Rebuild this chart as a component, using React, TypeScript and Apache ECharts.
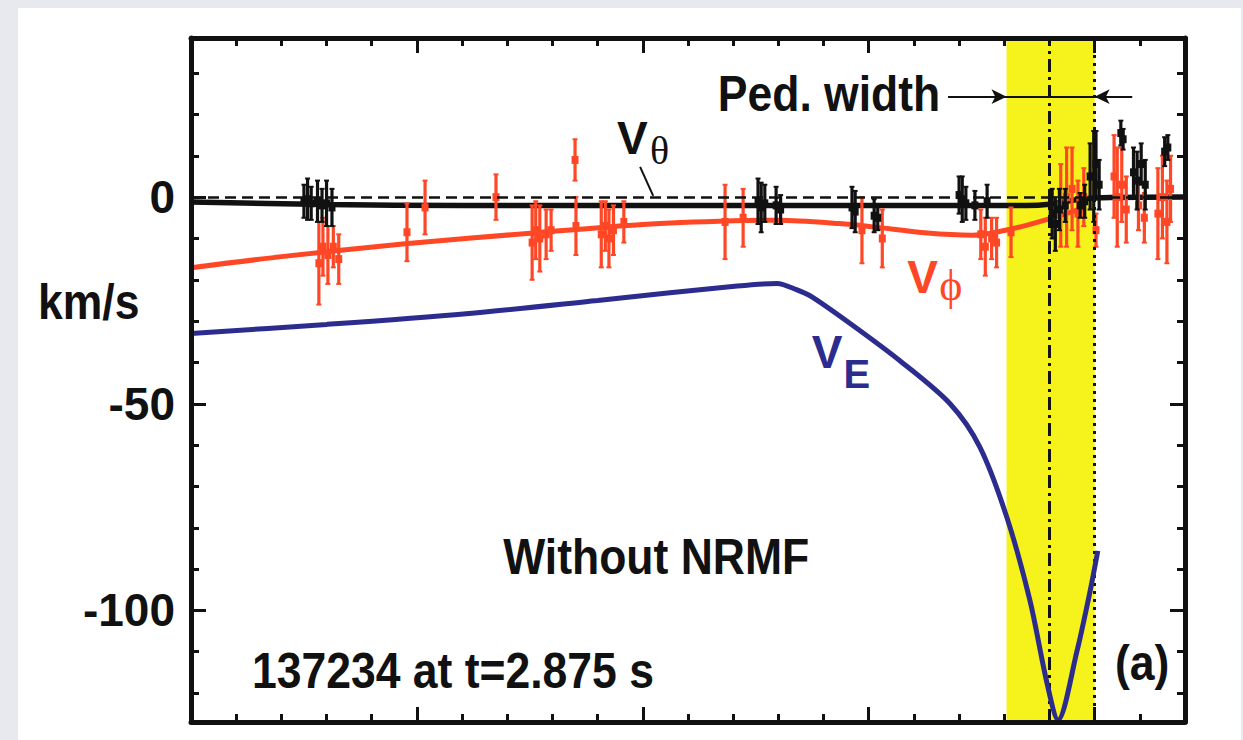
import React, { useEffect, useRef } from "react";
import * as echarts from "echarts";

// ---- axis ranges and ticks ----
const X_MIN = 0.8;
const X_MAX = 1.02;
const Y_MIN = -127;
const Y_MAX = 38.5;
const xMajorTicks = [0.8, 0.85, 0.9, 0.95, 1.0];
const xMinorTicks = [0.81, 0.82, 0.83, 0.84, 0.86, 0.87, 0.88, 0.89, 0.91, 0.92, 0.93, 0.94, 0.96, 0.97, 0.98, 0.99, 1.01];
const yMajorTicks = [-100, -50, 0];
const yMinorTicks = [-120, -110, -90, -80, -70, -60, -40, -30, -20, -10, 10, 20, 30];

// ---- fitted profiles ----
const vThetaFit: [number, number][] = [
  [0.8, -1.2], [0.83, -1.8], [0.86, -2.0], [0.9, -2.0], [0.95, -2.0], [0.985, -2.0],
  [0.99, -1.7], [0.995, -0.8], [1.0, -0.2], [1.02, 0],
];
const vPhiFit: [number, number][] = [
  [0.8, -17.1], [0.82, -14.4], [0.8474, -11.3], [0.8766, -8.6], [0.9, -6.6], [0.92, -5.7],
  [0.93, -5.6], [0.9436, -6.4], [0.951, -7.2], [0.963, -8.7], [0.973, -9.2], [0.982, -7.6],
  [0.991, -4.9], [0.998, -2.5],
];
const vEProfile: [number, number][] = [
  [0.8, -33.0], [0.83, -30.8], [0.8609, -28.2], [0.89, -25.0], [0.9209, -21.5], [0.9297, -20.9],
  [0.934, -22.4], [0.9375, -24.2], [0.9459, -30.6], [0.9569, -39.6], [0.968, -50.0],
  [0.9746, -60.5], [0.9806, -77.6], [0.9857, -97.7], [0.9895, -117.8], [0.9919, -126.5],
  [0.9961, -109.8], [0.999, -95.3], [1.0007, -85.6],
];

// ---- measured points [x, value, error] ----
const vThetaData: [number, number, number][] = [
  [0.825, -1.0, 4.0], [0.8258, -0.5, 5.0], [0.8266, -1.5, 4.0], [0.828, -1.0, 5.0], [0.829, -2.0, 4.0], [0.83, -1.5, 5.5], [0.8312, -2.5, 4.5],
  [0.9255, -1.0, 5.5], [0.9262, -2.5, 6.0], [0.927, -1.5, 4.5], [0.9295, -2.0, 4.5], [0.9305, -3.0, 3.5],
  [0.9463, -2.5, 5.0], [0.947, -3.5, 5.0], [0.9512, -4.5, 4.0], [0.952, -5.0, 3.0],
  [0.97, 0.5, 4.5], [0.9707, -0.5, 5.5], [0.9715, -1.5, 4.0], [0.9735, -2.0, 3.5], [0.9762, -1.0, 4.0],
  [0.9906, -4.0, 6.0], [0.9913, -6.5, 6.5], [0.9922, -3.0, 5.0], [0.9935, -2.0, 4.0],
  [0.9968, -2.0, 3.0], [0.9978, -1.0, 4.0], [0.999, 5.0, 8.0], [0.9998, 5.0, 11.0], [1.0003, 8.0, 8.0], [1.001, 3.0, 6.0],
  [1.0058, 15.5, 3.0], [1.0063, 14.0, 2.5],
  [1.0086, 6.0, 6.0], [1.0094, 4.0, 7.0], [1.0103, 8.0, 5.0], [1.0112, 3.0, 6.0],
  [1.0155, 11.0, 3.5], [1.0162, 12.0, 3.0],
];
const vPhiData: [number, number, number][] = [
  [0.8283, -16, 10], [0.8292, -12, 7], [0.8303, -14, 7], [0.8315, -12, 5], [0.8327, -15, 6],
  [0.8478, -8.5, 7], [0.8518, -2.5, 6.5], [0.8675, 0, 5.5],
  [0.8755, -11, 9], [0.8763, -8, 7], [0.8772, -10, 8], [0.8786, -9, 6], [0.8797, -8, 5],
  [0.885, 9, 5], [0.8852, -7, 7],
  [0.8908, -9, 8], [0.8917, -7, 6], [0.8925, -10, 7], [0.8935, -8, 6], [0.8958, -6, 5],
  [0.9182, -6, 9], [0.9222, -5, 7],
  [0.9485, -8, 8], [0.953, -10, 7],
  [0.9748, -9, 6], [0.9758, -12, 7], [0.9772, -10, 5], [0.9783, -11, 6],
  [0.9815, -8.5, 6],
  [0.9925, -2, 10], [0.9938, 0, 12], [0.995, 2, 10], [0.9963, -4, 8], [0.9976, 0, 7],
  [1.0003, -8, 4],
  [1.0043, 5, 10], [1.005, 0, 12], [1.006, 3, 9], [1.007, -3, 8],
  [1.0097, -2, 6], [1.011, -5, 6],
  [1.014, -4, 11], [1.015, 0, 10], [1.016, -6, 10], [1.0168, 2, 8],
];

// ---- annotations (data coordinates) ----
const pedestalBand: [number, number] = [0.9805, 1.0];
const pedCenterX = 0.9911;
const pedEdgeX = 1.0;
const pedArrowY = 24.3;
const pedArrowOuter: [number, number] = [0.9676, 1.0083];
const thetaLeader: [number, number][] = [[0.8994, 7.3], [0.9023, 0.3]];

const COLORS = { black: "#111111", red: "#ff4726", navy: "#2c2c8e", yellow: "#f6f21c" };
const SANS = "'Liberation Sans', Arial, Helvetica, sans-serif";
const SERIF = "'Liberation Serif', 'DejaVu Serif', serif";

type Lbl = { text: string; x: number; y: number; size: number; weight: string; family: string; color: string; scaleX: number };
const plotLabels: Lbl[] = [
  { text: "Ped. width", x: 0.9166, y: 25.0, size: 50, weight: "bold", family: SANS, color: COLORS.black, scaleX: 0.89 },
  { text: "Without NRMF", x: 0.8691, y: -87.0, size: 50, weight: "bold", family: SANS, color: COLORS.black, scaleX: 0.89 },
  { text: "137234 at t=2.875 s", x: 0.8135, y: -114.5, size: 50, weight: "bold", family: SANS, color: COLORS.black, scaleX: 0.89 },
  { text: "(a)", x: 1.0045, y: -112.6, size: 50, weight: "bold", family: SANS, color: COLORS.black, scaleX: 0.89 },
  { text: "V", x: 0.8943, y: 14.3, size: 46, weight: "bold", family: SANS, color: COLORS.black, scaleX: 1 },
  { text: "θ", x: 0.9016, y: 11.4, size: 40, weight: "normal", family: SERIF, color: COLORS.black, scaleX: 1 },
  { text: "V", x: 0.9585, y: -19.3, size: 46, weight: "bold", family: SANS, color: COLORS.red, scaleX: 1 },
  { text: "ϕ", x: 0.9656, y: -21.4, size: 44, weight: "normal", family: SERIF, color: COLORS.red, scaleX: 1 },
  { text: "V", x: 0.9374, y: -37.5, size: 46, weight: "bold", family: SANS, color: COLORS.navy, scaleX: 1 },
  { text: "E", x: 0.9444, y: -42.8, size: 40, weight: "bold", family: SANS, color: COLORS.navy, scaleX: 1 },
];
const unitLabel = { text: "km/s", left: 38, middle: 301.5 };

function errBar(color: string) {
  return (_params: any, api: any) => {
    const x = api.value(0);
    const y = api.value(1);
    const e = api.value(2);
    const top = api.coord([x, y + e]);
    const bot = api.coord([x, y - e]);
    const mid = api.coord([x, y]);
    return {
      type: "group",
      children: [
        { type: "line", shape: { x1: top[0], y1: top[1], x2: bot[0], y2: bot[1] }, style: { stroke: color, lineWidth: 3.2 } },
        { type: "line", shape: { x1: top[0] - 2.5, y1: top[1], x2: top[0] + 2.5, y2: top[1] }, style: { stroke: color, lineWidth: 2 } },
        { type: "line", shape: { x1: bot[0] - 2.5, y1: bot[1], x2: bot[0] + 2.5, y2: bot[1] }, style: { stroke: color, lineWidth: 2 } },
        { type: "rect", shape: { x: mid[0] - 3.5, y: mid[1] - 4, width: 7, height: 8 }, style: { fill: color } },
      ],
    };
  };
}

export default function App() {
  const ref = useRef<HTMLDivElement>(null);
  useEffect(() => {
    if (!ref.current) return;
    const chart = echarts.init(ref.current, null, { renderer: "svg" });
    const tickLine = { color: COLORS.black, width: 3 };
    const frameLine = { color: COLORS.black, width: 5 };
    const mkX = (position: string, ticks: number[], len: number, line: boolean) => ({
      type: "value", position, min: X_MIN, max: X_MAX, z: 10,
      axisLine: { show: line, onZero: false, lineStyle: frameLine },
      axisTick: { show: true, inside: true, length: len, customValues: ticks, lineStyle: tickLine },
      axisLabel: { show: false }, splitLine: { show: false },
    });
    const mkY = (position: string, ticks: number[], len: number, line: boolean, labels: boolean) => ({
      type: "value", position, min: Y_MIN, max: Y_MAX, z: 10,
      axisLine: { show: line, onZero: false, lineStyle: frameLine },
      axisTick: { show: true, inside: true, length: len, customValues: ticks, lineStyle: tickLine },
      axisLabel: labels
        ? { show: true, customValues: yMajorTicks, margin: 16, fontSize: 46, fontWeight: "bold", fontFamily: SANS, color: COLORS.black }
        : { show: false },
      splitLine: { show: false },
    });

    const option: any = {
      animation: false,
      backgroundColor: "transparent",
      grid: { left: 191, right: 58, top: 38, bottom: 18, containLabel: false },
      xAxis: [
        mkX("bottom", xMajorTicks, 15, true),
        mkX("bottom", xMinorTicks, 8, false),
        mkX("top", xMajorTicks, 15, true),
        mkX("top", xMinorTicks, 8, false),
      ],
      yAxis: [
        mkY("left", yMajorTicks, 15, true, true),
        mkY("left", yMinorTicks, 8, false, false),
        mkY("right", yMajorTicks, 15, true, false),
        mkY("right", yMinorTicks, 8, false, false),
      ],
      series: [
        {
          type: "line", name: "band", data: [], z: 1, silent: true,
          markArea: {
            silent: true,
            itemStyle: { color: COLORS.yellow, opacity: 1 },
            data: [[{ xAxis: pedestalBand[0] }, { xAxis: pedestalBand[1] }]],
          },
        },
        {
          type: "line", name: "refs", data: [], z: 2, silent: true,
          markLine: {
            silent: true, symbol: ["none", "none"], label: { show: false },
            data: [
              { yAxis: 0, lineStyle: { color: COLORS.black, width: 2.5, type: [11, 6] } },
              { xAxis: pedCenterX, lineStyle: { color: COLORS.black, width: 3, type: [13, 5, 3, 5] } },
              { xAxis: pedEdgeX, lineStyle: { color: COLORS.black, width: 3, type: [3, 5] } },
              [
                { coord: [pedArrowOuter[0], pedArrowY], lineStyle: { color: COLORS.black, width: 2, type: "solid" } },
                { coord: [pedArrowOuter[1], pedArrowY] },
              ],
              [
                { coord: [pedArrowOuter[0], pedArrowY], symbol: "none", lineStyle: { color: COLORS.black, width: 2, type: "solid" } },
                { coord: [pedestalBand[0], pedArrowY], symbol: "arrow", symbolSize: [11, 15] },
              ],
              [
                { coord: [pedArrowOuter[1], pedArrowY], symbol: "none", lineStyle: { color: COLORS.black, width: 2, type: "solid" } },
                { coord: [pedestalBand[1], pedArrowY], symbol: "arrow", symbolSize: [11, 15] },
              ],
              [
                { coord: thetaLeader[0], lineStyle: { color: COLORS.black, width: 2, type: "solid" } },
                { coord: thetaLeader[1] },
              ],
            ],
          },
        },
        {
          type: "line", name: "Vphi fit", data: vPhiFit, z: 3, showSymbol: false, smooth: 0.3,
          lineStyle: { color: COLORS.red, width: 5 },
        },
        {
          type: "line", name: "Vtheta fit", data: vThetaFit, z: 3, showSymbol: false, smooth: 0.3,
          lineStyle: { color: COLORS.black, width: 5.5 },
        },
        {
          type: "custom", name: "Vphi data", data: vPhiData, z: 4, renderItem: errBar(COLORS.red),
          encode: { x: 0, y: 1 },
        },
        {
          type: "custom", name: "Vtheta data", data: vThetaData, z: 5, renderItem: errBar(COLORS.black),
          encode: { x: 0, y: 1 },
        },
        {
          type: "line", name: "VE", data: vEProfile, z: 6, showSymbol: false, smooth: 0.3,
          lineStyle: { color: COLORS.navy, width: 5 },
        },
      ],
    };
    chart.setOption(option);

    const toPx = (x: number, y: number) => chart.convertToPixel({ seriesIndex: 2 }, [x, y]) as number[];
    const textEl = (px: number, py: number, l: { text: string; size: number; weight: string; family: string; color: string; scaleX: number }) => ({
      type: "text", x: px, y: py, scaleX: l.scaleX, z: 20, silent: true,
      style: {
        text: l.text, x: 0, y: 0, fill: l.color,
        font: `${l.weight} ${l.size}px ${l.family}`,
        textAlign: "left", textVerticalAlign: "middle", align: "left", verticalAlign: "middle",
      },
    });
    const graphics: any[] = plotLabels.map((l) => {
      const p = toPx(l.x, l.y);
      return textEl(p[0], p[1], l);
    });
    graphics.push(
      textEl(unitLabel.left, unitLabel.middle, {
        text: unitLabel.text, size: 50, weight: "bold", family: SANS, color: COLORS.black, scaleX: 0.89,
      })
    );
    chart.setOption({ graphic: graphics });

    return () => chart.dispose();
  }, []);

  return (
    <div style={{ position: "fixed", left: 0, top: 0, width: 1243, height: 740, background: "#e8e9ee", overflow: "hidden" }}>
      <div style={{ position: "absolute", left: 18, top: 8, width: 1223, height: 740, background: "#ffffff" }} />
      <div ref={ref} style={{ position: "absolute", left: 0, top: 0, width: 1243, height: 740 }} />
    </div>
  );
}
